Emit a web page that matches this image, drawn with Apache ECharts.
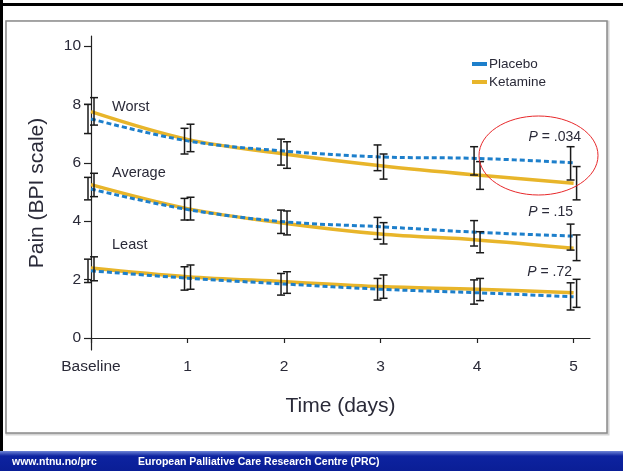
<!DOCTYPE html>
<html><head><meta charset="utf-8">
<script src="https://cdn.jsdelivr.net/npm/echarts@6/dist/echarts.min.js"></script>
<style>html,body{margin:0;padding:0;background:#fff}#c{width:623px;height:471px}</style>
</head><body><div id="c"></div>
<script>
var days = [0, 1, 2, 3, 4, 5];
var dayLabels = ['Baseline', '1', '2', '3', '4', '5'];
var yTicks = [0, 2, 4, 6, 8, 10];

var worstPlacebo = [7.5, 6.75, 6.4, 6.2, 6.15, 6.0];
var worstPlaceboLow = [7.0, 6.3, 5.92, 5.73, 5.58, 5.41];
var worstPlaceboHigh = [8.0, 7.18, 6.81, 6.61, 6.55, 6.55];
var worstKetamine = [7.75, 6.8, 6.3, 5.9, 5.58, 5.3];
var worstKetamineLow = [7.29, 6.38, 5.81, 5.44, 5.09, 4.73];
var worstKetamineHigh = [8.23, 7.32, 6.72, 6.3, 6.04, 5.87];

var avgPlacebo = [5.1, 4.4, 3.98, 3.81, 3.62, 3.49];
var avgPlaceboLow = [4.73, 4.04, 3.58, 3.38, 3.15, 3.01];
var avgPlaceboHigh = [5.5, 4.78, 4.38, 4.13, 4.02, 3.9];
var avgKetamine = [5.25, 4.43, 3.93, 3.56, 3.36, 3.07];
var avgKetamineLow = [4.84, 4.04, 3.53, 3.22, 2.92, 2.65];
var avgKetamineHigh = [5.64, 4.82, 4.35, 3.95, 3.64, 3.53];

var leastPlacebo = [2.3, 2.05, 1.85, 1.67, 1.55, 1.41];
var leastPlaceboLow = [1.9, 1.64, 1.47, 1.3, 1.16, 0.96];
var leastPlaceboHigh = [2.7, 2.44, 2.21, 2.04, 1.99, 1.89];
var leastKetamine = [2.4, 2.1, 1.93, 1.76, 1.67, 1.55];
var leastKetamineLow = [1.96, 1.67, 1.53, 1.36, 1.28, 1.05];
var leastKetamineHigh = [2.78, 2.5, 2.27, 2.16, 2.04, 2.01];

var groupLabels = ['Worst', 'Average', 'Least'];
var pValues = ['.034', '.15', '.72'];

var BLUE = '#1d7fcb', GOLD = '#e8b52a', FONT = '"Liberation Sans", Arial, sans-serif', TXT = '#2a2a38';

function pts(v) { return days.map(function (d, i) { return [d, v[i]]; }); }
function bars(lo, hi, off) { return days.map(function (d, i) { return [d, lo[i], hi[i], off]; }); }

function ketLine(v) {
  return { name: 'Ketamine', type: 'line', data: pts(v), smooth: 0.35, symbol: 'none', z: 2,
    lineStyle: { color: GOLD, width: 3.5 }, itemStyle: { color: GOLD } };
}
function plaLine(v) {
  return { name: 'Placebo', type: 'line', data: pts(v), smooth: 0.35, symbol: 'none', z: 3,
    lineStyle: { color: BLUE, width: 3, type: [5, 3] }, itemStyle: { color: BLUE } };
}
function errSeries(data) {
  return { type: 'custom', data: data, z: 5, silent: true, encode: { x: 0, y: [1, 2] },
    renderItem: function (params, api) {
      var lo = api.coord([api.value(0), api.value(1)]);
      var hi = api.coord([api.value(0), api.value(2)]);
      var x = lo[0] + api.value(3);
      var w = 4;
      var st = { stroke: '#1a1a1a', lineWidth: 1.5 };
      return { type: 'group', children: [
        { type: 'line', shape: { x1: x, y1: lo[1], x2: x, y2: hi[1] }, style: st },
        { type: 'line', shape: { x1: x - w, y1: lo[1], x2: x + w, y2: lo[1] }, style: st },
        { type: 'line', shape: { x1: x - w, y1: hi[1], x2: x + w, y2: hi[1] }, style: st }
      ] };
    } };
}

var chart = echarts.init(document.getElementById('c'));
var ital = { i: { fontStyle: 'italic', fontSize: 14, fontFamily: FONT, fill: TXT } };

var graphics = [
  { type: 'rect', shape: { x: 7, y: 22, width: 601, height: 412 }, style: { fill: 'none', stroke: '#d4d4d4', lineWidth: 3 }, z: -10 },
  { type: 'rect', shape: { x: 6, y: 21, width: 601, height: 412 }, style: { fill: '#fff', stroke: '#8a8a8a', lineWidth: 1.5 }, z: -9 },
  { type: 'rect', shape: { x: 0, y: 3, width: 623, height: 3 }, style: { fill: '#000' }, z: 10 },
  { type: 'rect', shape: { x: 0, y: 0, width: 3, height: 451 }, style: { fill: '#000' }, z: 10 },
  { type: 'rect', shape: { x: 0, y: 451, width: 623, height: 20 },
    style: { fill: new echarts.graphic.LinearGradient(0, 0, 0, 1, [{ offset: 0, color: '#6f86d8' }, { offset: 0.25, color: '#0d23a0' }, { offset: 1, color: '#0a1e96' }]) }, z: 10 },
  { type: 'text', x: 12, y: 462, z: 11, style: { text: 'www.ntnu.no/prc', fill: '#fff', font: 'bold 10.5px ' + FONT, textVerticalAlign: 'middle' } },
  { type: 'text', x: 138, y: 462, z: 11, style: { text: 'European Palliative Care Research Centre (PRC)', fill: '#fff', font: 'bold 10.5px ' + FONT, textVerticalAlign: 'middle' } },
  { type: 'text', x: 112, y: 107, z: 11, style: { text: groupLabels[0], fill: TXT, font: '14.5px ' + FONT, textVerticalAlign: 'middle' } },
  { type: 'text', x: 112, y: 173, z: 11, style: { text: groupLabels[1], fill: TXT, font: '14.5px ' + FONT, textVerticalAlign: 'middle' } },
  { type: 'text', x: 112, y: 245, z: 11, style: { text: groupLabels[2], fill: TXT, font: '14.5px ' + FONT, textVerticalAlign: 'middle' } },
  { type: 'text', x: 581, y: 137, z: 11, style: { rich: ital, text: '{i|P} = ' + pValues[0], fill: TXT, font: '14px ' + FONT, textAlign: 'right', textVerticalAlign: 'middle' } },
  { type: 'text', x: 573, y: 212, z: 11, style: { rich: ital, text: '{i|P} = ' + pValues[1], fill: TXT, font: '14px ' + FONT, textAlign: 'right', textVerticalAlign: 'middle' } },
  { type: 'text', x: 572, y: 272, z: 11, style: { rich: ital, text: '{i|P} = ' + pValues[2], fill: TXT, font: '14px ' + FONT, textAlign: 'right', textVerticalAlign: 'middle' } },
  { type: 'ellipse', shape: { cx: 538.5, cy: 155.5, rx: 59.5, ry: 39.5 }, style: { fill: 'none', stroke: '#e8292b', lineWidth: 1 }, z: 12 }
];

chart.setOption({
  animation: false,
  backgroundColor: '#fff',
  textStyle: { fontFamily: FONT },
  grid: { left: 91, right: 33, top: 36, bottom: 121 },
  legend: {
    data: ['Placebo', 'Ketamine'], orient: 'vertical', left: 467, top: 52, itemGap: 4,
    itemWidth: 15, itemHeight: 4, icon: 'rect',
    textStyle: { color: TXT, fontSize: 13.5, fontFamily: FONT, padding: [0, 0, 0, -3] }
  },
  xAxis: {
    type: 'value', min: 0, max: 5.17, name: 'Time (days)', nameLocation: 'middle', nameGap: 46,
    nameTextStyle: { color: TXT, fontSize: 21, fontFamily: FONT },
    axisLine: { lineStyle: { color: '#222', width: 1.2 } },
    axisTick: { length: 5, lineStyle: { color: '#222', width: 1.2 }, customValues: days },
    axisLabel: { customValues: days, color: TXT, fontSize: 15.5, margin: 9,
      formatter: function (v) { return dayLabels[Math.round(v)]; } },
    splitLine: { show: false }
  },
  yAxis: {
    type: 'value', min: -0.41, max: 10.34, name: 'Pain (BPI scale)', nameLocation: 'middle', nameGap: 43,
    nameTextStyle: { color: TXT, fontSize: 21, fontFamily: FONT },
    axisLine: { show: true, lineStyle: { color: '#222', width: 1.2 } },
    axisTick: { show: true, length: 7, lineStyle: { color: '#222', width: 1.2 }, customValues: yTicks },
    axisLabel: { customValues: yTicks, color: TXT, fontSize: 15.5, margin: 10 },
    splitLine: { show: false }
  },
  graphic: graphics,
  series: [
    ketLine(worstKetamine), plaLine(worstPlacebo),
    ketLine(avgKetamine), plaLine(avgPlacebo),
    ketLine(leastKetamine), plaLine(leastPlacebo),
    errSeries(bars(worstPlaceboLow, worstPlaceboHigh, -3)),
    errSeries(bars(worstKetamineLow, worstKetamineHigh, 3)),
    errSeries(bars(avgPlaceboLow, avgPlaceboHigh, -3)),
    errSeries(bars(avgKetamineLow, avgKetamineHigh, 3)),
    errSeries(bars(leastPlaceboLow, leastPlaceboHigh, -3)),
    errSeries(bars(leastKetamineLow, leastKetamineHigh, 3))
  ]
});
</script></body></html>
